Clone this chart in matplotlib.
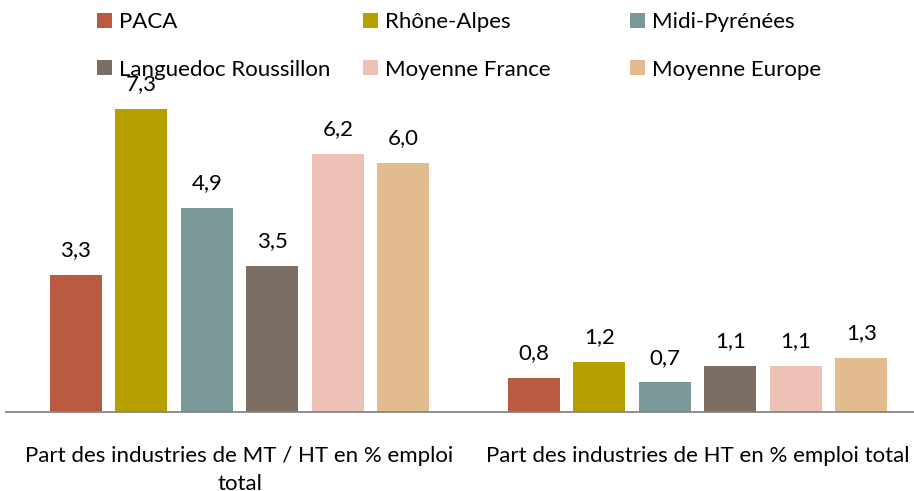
import matplotlib
matplotlib.use("Agg")
import matplotlib.pyplot as plt
from matplotlib.patches import Rectangle
from matplotlib.transforms import blended_transform_factory

plt.rcParams['font.family'] = ['Lato', 'DejaVu Sans']

categories = ["Part des industries de MT / HT en % emploi\ntotal",
              "Part des industries de HT en % emploi total"]
series = ["PACA", "Rhône-Alpes", "Midi-Pyrénées",
          "Languedoc Roussillon", "Moyenne France", "Moyenne Europe"]
values = {
    "PACA": [3.3, 0.8],
    "Rhône-Alpes": [7.3, 1.2],
    "Midi-Pyrénées": [4.9, 0.7],
    "Languedoc Roussillon": [3.5, 1.1],
    "Moyenne France": [6.2, 1.1],
    "Moyenne Europe": [6.0, 1.3],
}
colors = ["#B95A41", "#B5A000", "#7B9899", "#7C6E62", "#EDC1B6", "#E2BB8F"]

W, H = 914, 491
fig = plt.figure(figsize=(W / 100, H / 100), dpi=100)
ax = fig.add_axes([6 / W, 79.5 / H, 908 / W, 332 / H])

FS = 16
step = 65.5 / 458
bw = 52 / 458
n = len(series)
for i, (s, c) in enumerate(zip(series, colors)):
    xs = [g + (i - (n - 1) / 2) * step for g in range(len(categories))]
    ax.bar(xs, values[s], width=bw, color=c, edgecolor='none')
    for x, v in zip(xs, values[s]):
        ax.annotate(f"{v:.1f}".replace('.', ','), (x, v), xytext=(0, 13.5),
                    textcoords='offset points', ha='center', va='baseline',
                    fontsize=FS, color='#000000')

ax.set_xlim((6 - 239.5) / 458, (914 - 239.5) / 458)
ax.set_ylim(0, 8)
for sp in ['top', 'right', 'left']:
    ax.spines[sp].set_visible(False)
ax.spines['bottom'].set_color('#868686')
ax.spines['bottom'].set_linewidth(1.3)
ax.set_xticks([])
ax.set_yticks([])

# category labels
tr = blended_transform_factory(ax.transData, fig.transFigure)
for g, lab in enumerate(categories):
    for k, line in enumerate(lab.split("\n")):
        ybase = 461.7 + k * 28
        ax.text(g, 1 - ybase / H, line, transform=tr, ha='center',
                va='baseline', fontsize=FS, color='#000000')

# legend (row-major, 3 columns)
col_x = [97, 363, 630]
row_top = [13, 60]
for i, (s, c) in enumerate(zip(series, colors)):
    r, cc = divmod(i, 3)
    x0, y0 = col_x[cc], row_top[r]
    fig.patches.append(Rectangle((x0 / W, 1 - (y0 + 15) / H), 15 / W, 15 / H,
                                 transform=fig.transFigure, facecolor=c,
                                 edgecolor='none'))
    fig.text((x0 + 22) / W, 1 - (y0 + 15.5) / H, s, ha='left', va='baseline',
             fontsize=FS, color='#000000')

fig.savefig("out.png", dpi=100)
